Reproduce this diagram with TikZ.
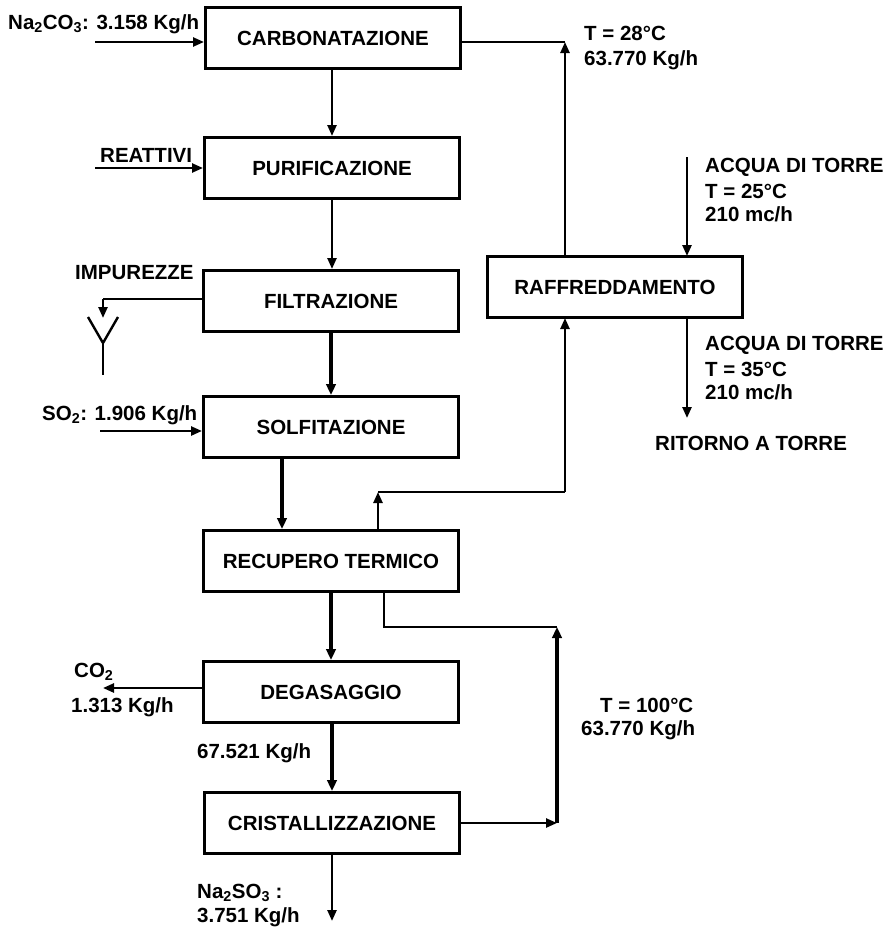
\documentclass[tikz,border=0pt]{standalone}
\usepackage{fontspec}
\setmainfont{Liberation Sans}
\usetikzlibrary{arrows.meta,calc}
\tikzset{
  proc/.style={draw, line width=3pt, minimum width=255pt, minimum height=61pt, inner sep=0pt,
    font=\bfseries\fontsize{20.5}{24}\selectfont},
  lbl/.style={anchor=west, inner sep=0pt, font=\bfseries\fontsize{20.5}{24}\selectfont},
  conn/.style={line width=2.4pt},
  arr/.style={line width=2.4pt, -{Triangle[length=11pt,width=9pt]}},
  thick arr/.style={line width=3.2pt, -{Triangle[length=11pt,width=9.5pt]}}
}
\begin{document}
\begin{tikzpicture}[x=1pt,y=-1pt]
\useasboundingbox (0,0) rectangle (887,929);
% process boxes
\node[proc] (carb)  at (333,38)  {CARBONATAZIONE};
\node[proc] (puri)  at (332,168) {PURIFICAZIONE};
\node[proc] (filt)  at (331,301) {FILTRAZIONE};
\node[proc] (solf)  at (331,427) {SOLFITAZIONE};
\node[proc] (recup) at (331,561) {RECUPERO TERMICO};
\node[proc] (degas) at (331,692) {DEGASAGGIO};
\node[proc] (crist) at (332,823) {CRISTALLIZZAZIONE};
\node[proc] (raff)  at (615,287) {RAFFREDDAMENTO};

% coordinates
\coordinate (naS)  at (95,42);
\coordinate (reS)  at (95,168);
\coordinate (soS)  at (100,431);
\coordinate (co2E) at (103,688);
\coordinate (cTop) at (565,42);
\coordinate (rTop) at (565,256);
\coordinate (rBot) at (565,318);
\coordinate (hrUp) at (378,492);
\coordinate (hrR)  at (565,492);
\coordinate (hrB)  at (384,627);
\coordinate (crR)  at (557,823);
\coordinate (crU)  at (557,627);
\coordinate (out)  at (332,921);
\coordinate (aqIn) at (687,157);
\coordinate (aqT)  at (687,256);
\coordinate (aqB)  at (687,318);
\coordinate (aqOut) at (687,418);
\coordinate (impC) at (103,299);
\coordinate (impA) at (103,318);
\coordinate (yL) at (88,317);
\coordinate (yM) at (103,343);
\coordinate (yR) at (118,317);
\coordinate (yS) at (103,375);

% feeds
\draw[arr] (naS) -- (naS -| carb.west);
\draw[arr] (reS) -- (reS -| puri.west);
\draw[arr] (soS) -- (soS -| solf.west);
\draw[arr] (degas.west |- co2E) -- (co2E);

% main column
\draw[arr] (carb.south -| 332,0) -- (puri.north -| 332,0);
\draw[arr] (puri.south -| 332,0) -- (filt.north -| 332,0);
\draw[thick arr] (filt.south -| 331,0) -- (solf.north -| 331,0);
\draw[thick arr] (solf.south -| 282,0) -- (recup.north -| 282,0);
\draw[thick arr] (recup.south -| 331,0) -- (degas.north -| 331,0);
\draw[thick arr] (degas.south -| 332,0) -- (crist.north -| 332,0);
\draw[arr] (crist.south -| out) -- (out);

% impurities
\draw[conn] (filt.west |- impC) -- (impC);
\draw[arr] (impC) -- (impA);
\draw[conn] (yL) -- (yM) -- (yR);
\draw[conn] (yM) -- (yS);

% cooling loop
\draw[conn] (carb.east |- cTop) -- (cTop);
\draw[arr] (rTop) -- (cTop);
\draw[arr] (recup.north -| hrUp) -- (hrUp);
\draw[conn] (hrUp) -- (hrR);
\draw[arr] (hrR) -- (rBot);
\draw[conn] (recup.south -| hrB) -- (hrB) -- (crU);
\draw[thick arr] (crR) -- (crU);
\draw[arr] (crist.east) -- (crR);

% tower water
\draw[arr] (aqIn) -- (aqT);
\draw[arr] (aqB) -- (aqOut);

% labels
\node[lbl] (l1) at (8,24) {Na\textsubscript{2}CO\textsubscript{3}: 3.158 Kg/h};
\node[lbl] (l2) at (584,33) {T = 28°C};
\node[lbl] (l3) at (584,60) {63.770 Kg/h};
\node[lbl] (l4) at (100,155) {REATTIVI};
\node[lbl] (l5) at (75,273) {IMPUREZZE};
\node[lbl] (l6) at (42,415) {SO\textsubscript{2}: 1.906 Kg/h};
\node[lbl] (l7) at (74,672) {CO\textsubscript{2}};
\node[lbl] (l8) at (71,707) {1.313 Kg/h};
\node[lbl] (l9) at (197,753) {67.521 Kg/h};
\node[lbl] (l10) at (197,893) {Na\textsubscript{2}SO\textsubscript{3} :};
\node[lbl] (l11) at (197,917) {3.751 Kg/h};
\node[lbl] (l12) at (600,705) {T = 100°C};
\node[lbl] (l13) at (581,730) {63.770 Kg/h};
\node[lbl] (l14) at (705,167) {ACQUA DI TORRE};
\node[lbl] (l15) at (705,191) {T = 25°C};
\node[lbl] (l16) at (705,214) {210 mc/h};
\node[lbl] (l17) at (705,345) {ACQUA DI TORRE};
\node[lbl] (l18) at (705,369) {T = 35°C};
\node[lbl] (l19) at (705,392) {210 mc/h};
\node[lbl] (l20) at (655,443) {RITORNO A TORRE};
\end{tikzpicture}
\end{document}
